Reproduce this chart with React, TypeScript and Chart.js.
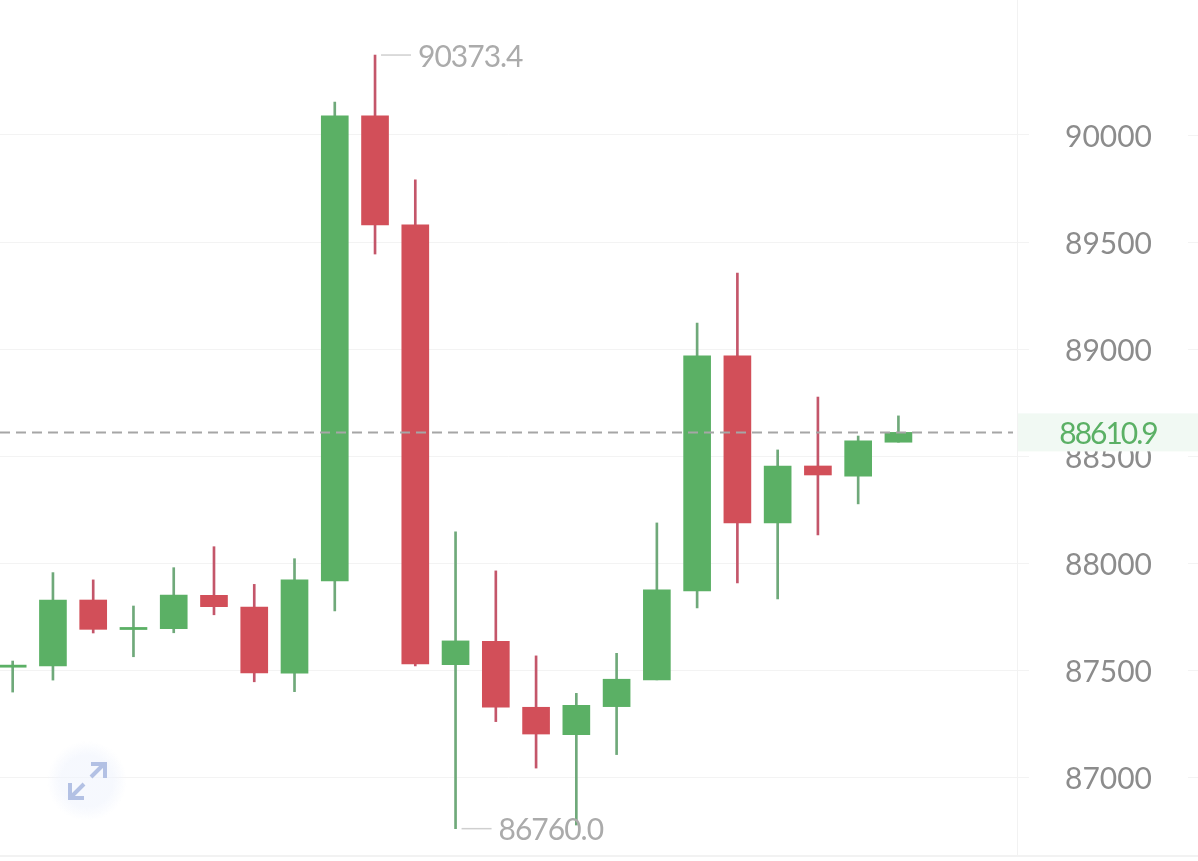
import React, { useEffect, useRef } from "react";
import { Chart, registerables } from "chart.js";

Chart.register(...registerables);

const opens = [87514, 87520, 87828, 87690, 87694, 87850, 87795, 87486, 87917, 90089, 89580, 87526, 87635, 87327, 87199, 87330, 87455, 87870, 88968, 88188, 88454, 88407, 88565];
const closes = [87524, 87828, 87691, 87700, 87851, 87797, 87487, 87922, 90090, 89580, 87529, 87637, 87328, 87202, 87336, 87458, 87875, 88968, 88188, 88454, 88412, 88571, 88610.9];
const highs = [87543, 87956, 87922, 87800, 87979, 88077, 87901, 88021, 90154, 90373.4, 89790, 88146, 87964, 87567, 87392, 87579, 88188, 89122, 89355, 88529, 88776, 88594, 88688];
const lows = [87398, 87454, 87674, 87563, 87675, 87759, 87446, 87400, 87777, 89444, 87520, 86760, 87260, 87043, 86777, 87106, 87455, 87791, 87908, 87833, 88132, 88277, 88565];
const yTicks = [87000, 87500, 88000, 88500, 89000, 89500, 90000];
const lastPrice = 88610.9;
const highLabel = { index: 9, value: 90373.4, text: "90373.4" };
const lowLabel = { index: 11, value: 86760, text: "86760.0" };

const GREEN = "#5bb065";
const RED = "#d24f59";
const GREEN_WICK = "#6fa97a";
const RED_WICK = "#c4566a";
const GRID = "#f3f3f3";
const FONT = "Lato, sans-serif";
const FONT_SIZE = 30;

const overlay = {
  id: "overlay",
  afterDatasetsDraw(chart: any) {
    const { ctx, chartArea, scales, width } = chart;
    const x = scales.x;
    const y = scales.y;
    ctx.save();

    // right tails of grid lines
    ctx.strokeStyle = GRID;
    ctx.lineWidth = 1;
    for (const t of yTicks) {
      const py = Math.round(y.getPixelForValue(t)) + 0.5;
      ctx.beginPath();
      ctx.moveTo(1188, py);
      ctx.lineTo(width, py);
      ctx.stroke();
    }

    // bottom rule
    ctx.strokeStyle = "#f2f2f2";
    ctx.lineWidth = 2;
    ctx.beginPath();
    ctx.moveTo(0, chartArea.bottom + 1);
    ctx.lineTo(width, chartArea.bottom + 1);
    ctx.stroke();

    // last price line
    const py = y.getPixelForValue(lastPrice);
    ctx.strokeStyle = "#a6a6a6";
    ctx.lineWidth = 2;
    ctx.setLineDash([10, 6]);
    ctx.beginPath();
    ctx.moveTo(0, py);
    ctx.lineTo(1013, py);
    ctx.stroke();
    ctx.setLineDash([]);

    // last price tag
    ctx.fillStyle = "#f1f9f3";
    ctx.fillRect(chartArea.right + 1, py - 19, width - chartArea.right - 1, 38);
    ctx.fillStyle = GREEN;
    ctx.font = `${FONT_SIZE}px ${FONT}`;
    ctx.textAlign = "center";
    ctx.textBaseline = "middle";
    (ctx as any).letterSpacing = "-2px";
    ctx.fillText(lastPrice.toFixed(1), 1108, py + 2);

    // high / low labels
    ctx.textAlign = "left";
    (ctx as any).letterSpacing = "-1px";
    for (const a of [highLabel, lowLabel]) {
      const ax = x.getPixelForValue(a.index);
      const ay = y.getPixelForValue(a.value);
      ctx.strokeStyle = "#cfcfcf";
      ctx.lineWidth = 1.5;
      ctx.beginPath();
      ctx.moveTo(ax + 6, ay);
      ctx.lineTo(ax + 36, ay);
      ctx.stroke();
      ctx.fillStyle = "#ababab";
      ctx.fillText(a.text, ax + 43, ay + 2);
    }
    (ctx as any).letterSpacing = "0px";

    // expand button
    const cx = 87;
    const cy = 781;
    const g = ctx.createRadialGradient(cx, cy, 26, cx, cy, 40);
    g.addColorStop(0, "rgba(240,244,253,0.6)");
    g.addColorStop(1, "rgba(240,244,253,0)");
    ctx.fillStyle = g;
    ctx.beginPath();
    ctx.arc(cx, cy, 40, 0, Math.PI * 2);
    ctx.fill();
    ctx.strokeStyle = "#b3c1e4";
    ctx.lineWidth = 4;
    ctx.beginPath();
    ctx.moveTo(91, 777);
    ctx.lineTo(104, 764);
    ctx.moveTo(91, 764);
    ctx.lineTo(105, 764);
    ctx.lineTo(105, 778);
    ctx.moveTo(84, 784);
    ctx.lineTo(71, 797);
    ctx.moveTo(70, 783);
    ctx.lineTo(70, 798);
    ctx.lineTo(84, 798);
    ctx.stroke();
    ctx.restore();
  },
};

export default function App() {
  const ref = useRef<HTMLCanvasElement>(null);
  useEffect(() => {
    const isUp = (i: number) => closes[i] >= opens[i];
    const chart = new Chart(ref.current as any, {
      type: "bar",
      data: {
        datasets: [
          {
            label: "wick",
            order: 2,
            grouped: false,
            barThickness: 2,
            borderSkipped: false,
            data: highs.map((h, i) => ({ x: i, y: [lows[i], h] })),
            backgroundColor: highs.map((_, i) => (isUp(i) ? GREEN_WICK : RED_WICK)),
          },
          {
            label: "body",
            order: 1,
            grouped: false,
            barThickness: 27,
            borderSkipped: false,
            data: opens.map((o, i) => ({ x: i, y: [o, closes[i]] })),
            backgroundColor: opens.map((_, i) => (isUp(i) ? GREEN : RED)),
          },
        ] as any,
      },
      options: {
        animation: false,
        responsive: false,
        events: [],
        layout: { padding: { left: 0, right: 0, top: 0, bottom: 6 } },
        plugins: { legend: { display: false }, tooltip: { enabled: false } },
        scales: {
          x: { type: "linear", display: false, offset: false, min: -0.315, max: 24.945 },
          y: {
            position: "right",
            min: 86637,
            max: 90630.5,
            afterFit(s: any) {
              s.width = 181;
              s.paddingTop = 0;
              s.paddingBottom = 0;
            },
            afterBuildTicks(s: any) {
              s.ticks = yTicks.map((value) => ({ value }));
            },
            grid: { color: GRID, tickColor: GRID, tickLength: 12, lineWidth: 1 },
            border: { display: true, color: "#f2f2f2", width: 1 },
            ticks: {
              color: "#8c8c8c",
              padding: 36,
              crossAlign: "near",
              labelOffset: 2,
              font: { family: "Lato", size: FONT_SIZE },
              callback: (v: any) => String(v),
            },
          },
        },
      } as any,
      plugins: [overlay],
    });
    return () => chart.destroy();
  }, []);
  return (
    <div style={{ position: "fixed", left: 0, top: 0, width: 1198, height: 861, background: "#fff" }}>
      <canvas ref={ref} width={1198} height={861} style={{ display: "block" }} />
    </div>
  );
}
